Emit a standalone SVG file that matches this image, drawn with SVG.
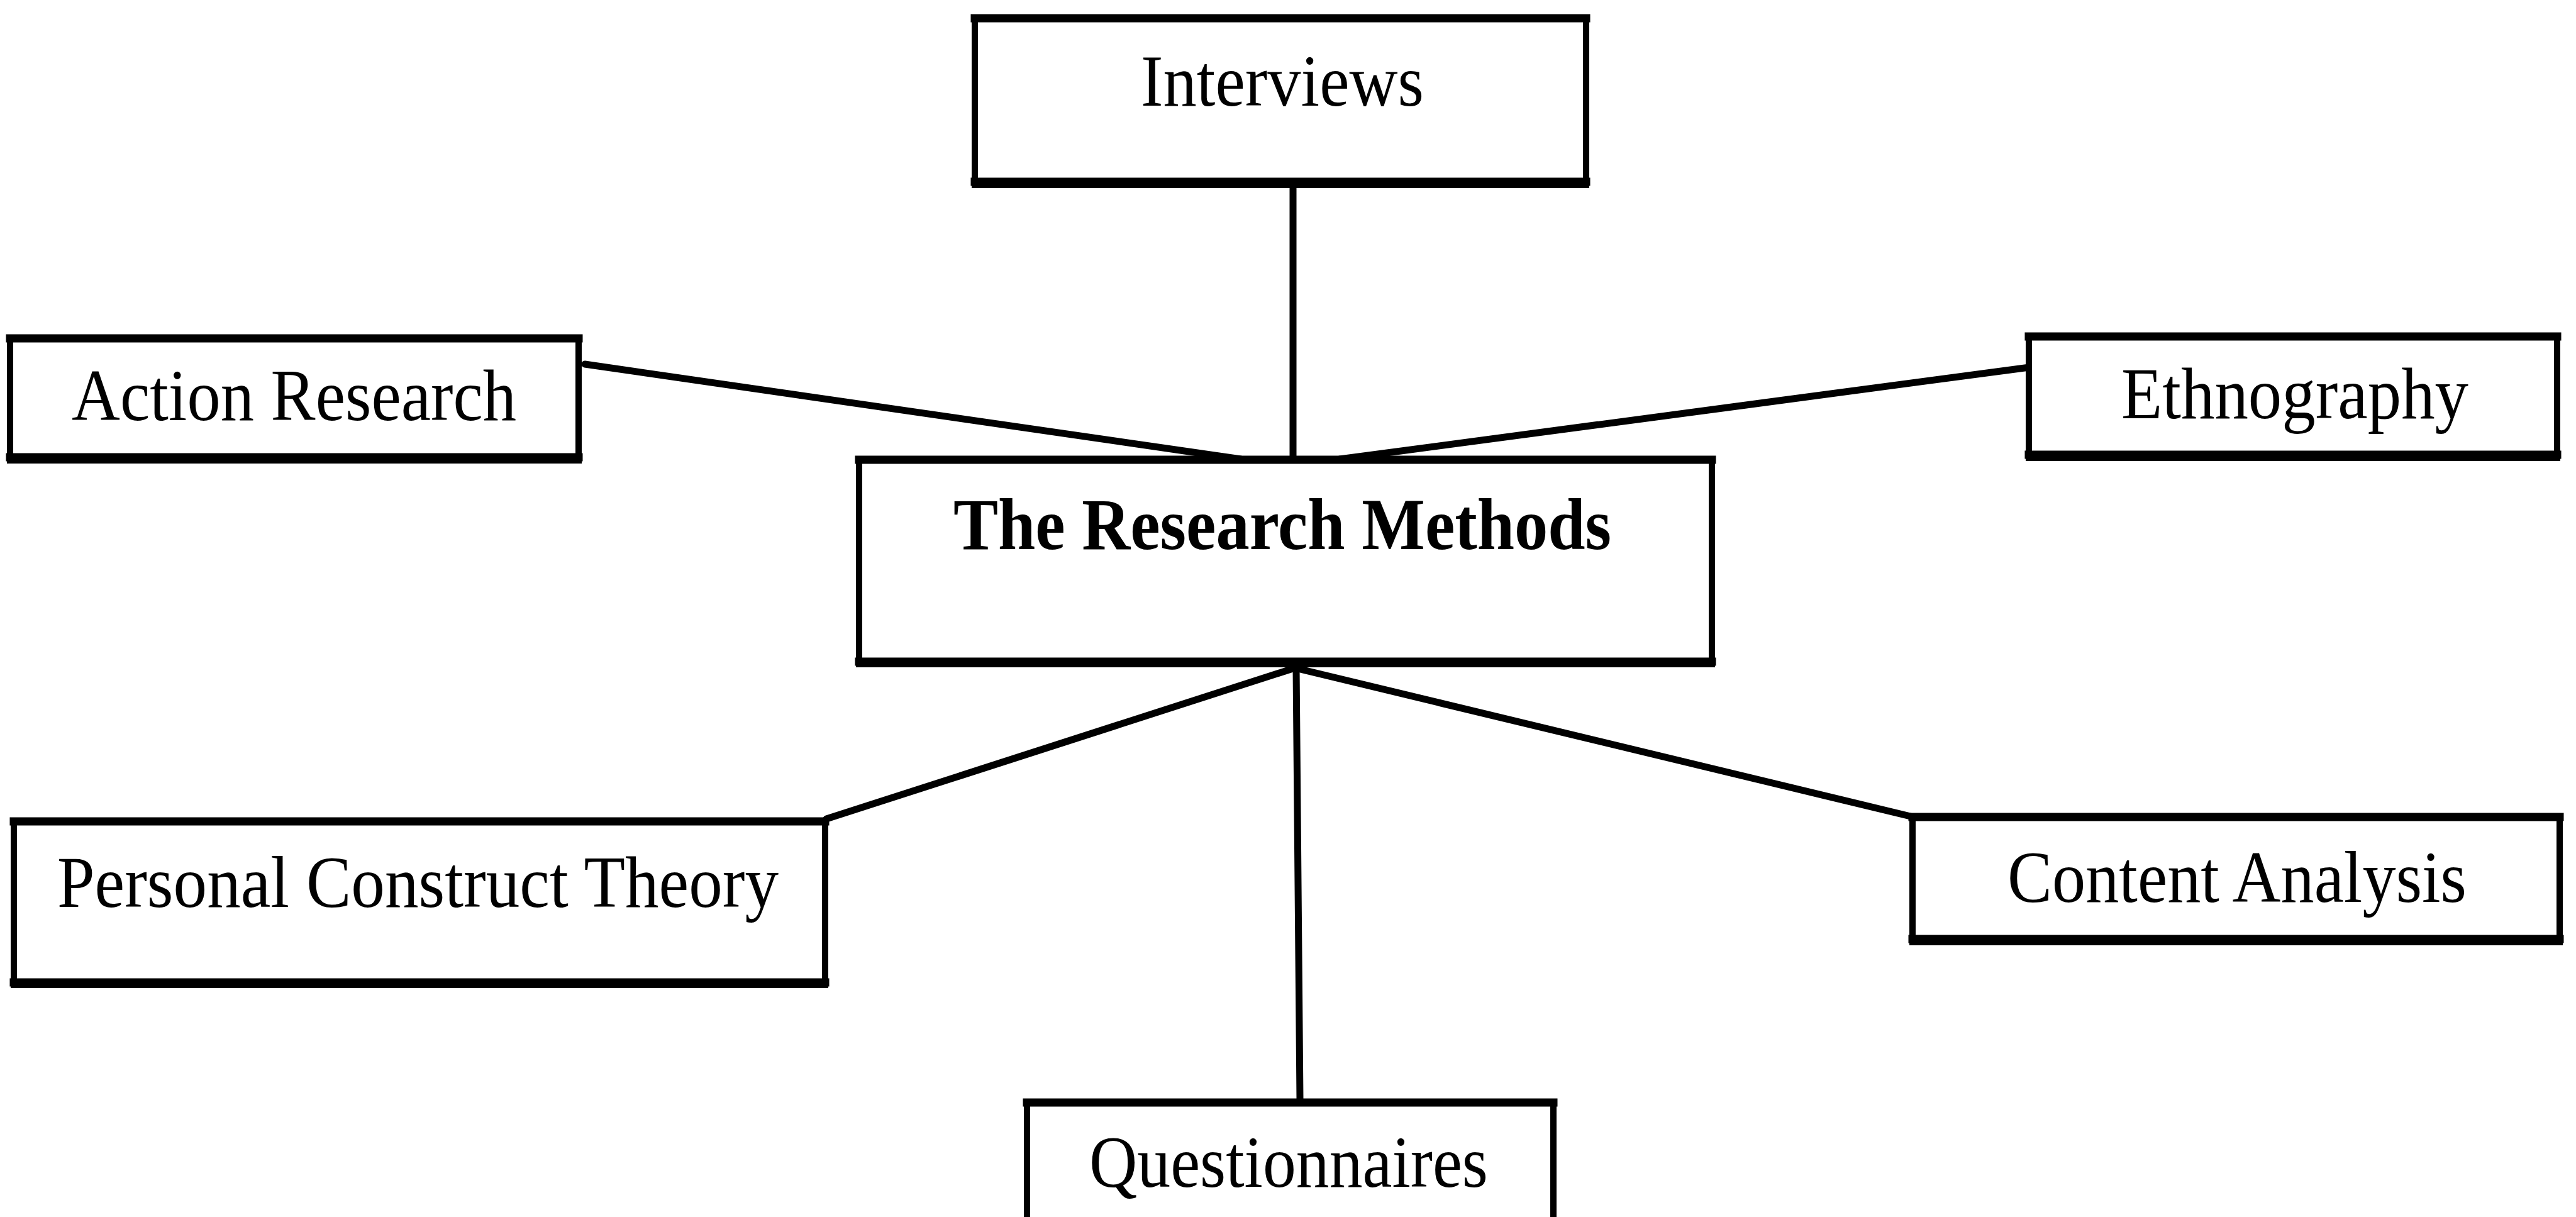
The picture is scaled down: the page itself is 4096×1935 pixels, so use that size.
<svg xmlns="http://www.w3.org/2000/svg" width="4096" height="1935" viewBox="0 0 4096 1935">
<style>
.box{fill:#ffffff;stroke:#000000;stroke-width:10}
.edge{stroke:#000000;stroke-width:13;stroke-linecap:square}
.lbl{font-family:"Liberation Serif","Times New Roman",serif;font-size:116px;fill:#000000}
.bold{font-weight:bold}
.conn line{stroke:#000000;stroke-width:11;stroke-linecap:round}
</style>
<rect x="0" y="0" width="4096" height="1935" fill="#ffffff"/>
<g id="connectors" class="conn">
<line x1="2056" y1="294" x2="2056" y2="725"/>
<line x1="930" y1="579" x2="1973" y2="730"/>
<line x1="3227" y1="584" x2="2130" y2="730"/>
<line x1="2059" y1="1062" x2="1314" y2="1302"/>
<line x1="2059" y1="1062" x2="3038" y2="1298"/>
<line x1="2061" y1="1062" x2="2067" y2="1748"/>
</g>
<g id="node-interviews">
<rect class="box" x="1550" y="29" width="972" height="265"/>
<line class="edge" x1="1550" y1="29" x2="2522" y2="29"/>
<line class="edge" x1="1550" y1="289" x2="2522" y2="289"/>
<text class="lbl" x="1814" y="168" textLength="450" lengthAdjust="spacingAndGlyphs">Interviews</text>
</g>
<g id="node-action-research">
<rect class="box" x="16" y="538" width="904" height="194"/>
<line class="edge" x1="16" y1="538" x2="920" y2="538"/>
<line class="edge" x1="16" y1="727" x2="920" y2="727"/>
<text class="lbl" x="114" y="668" textLength="707" lengthAdjust="spacingAndGlyphs">Action Research</text>
</g>
<g id="node-ethnography">
<rect class="box" x="3226" y="535" width="840" height="193"/>
<line class="edge" x1="3226" y1="535" x2="4066" y2="535"/>
<line class="edge" x1="3226" y1="723" x2="4066" y2="723"/>
<text class="lbl" x="3373" y="665" textLength="552" lengthAdjust="spacingAndGlyphs">Ethnography</text>
</g>
<g id="node-research-methods">
<rect class="box" x="1366" y="731" width="1356" height="325"/>
<line class="edge" x1="1366" y1="731" x2="2722" y2="731"/>
<line class="edge" x1="1366" y1="1052" x2="2722" y2="1052"/>
<text class="lbl bold" x="1516" y="873" textLength="1046" lengthAdjust="spacingAndGlyphs">The Research Methods</text>
</g>
<g id="node-personal-construct-theory">
<rect class="box" x="22" y="1306" width="1290" height="260"/>
<line class="edge" x1="22" y1="1306" x2="1312" y2="1306"/>
<line class="edge" x1="22" y1="1562" x2="1312" y2="1562"/>
<text class="lbl" x="91" y="1442" textLength="1147" lengthAdjust="spacingAndGlyphs">Personal Construct Theory</text>
</g>
<g id="node-content-analysis">
<rect class="box" x="3041" y="1299" width="1029" height="199"/>
<line class="edge" x1="3041" y1="1299" x2="4070" y2="1299"/>
<line class="edge" x1="3041" y1="1493" x2="4070" y2="1493"/>
<text class="lbl" x="3192" y="1434" textLength="730" lengthAdjust="spacingAndGlyphs">Content Analysis</text>
</g>
<g id="node-questionnaires">
<rect class="box" x="1633" y="1753" width="837" height="230"/>
<line class="edge" x1="1633" y1="1753" x2="2470" y2="1753"/>
<text class="lbl" x="1732" y="1887" textLength="634" lengthAdjust="spacingAndGlyphs">Questionnaires</text>
</g>
</svg>
